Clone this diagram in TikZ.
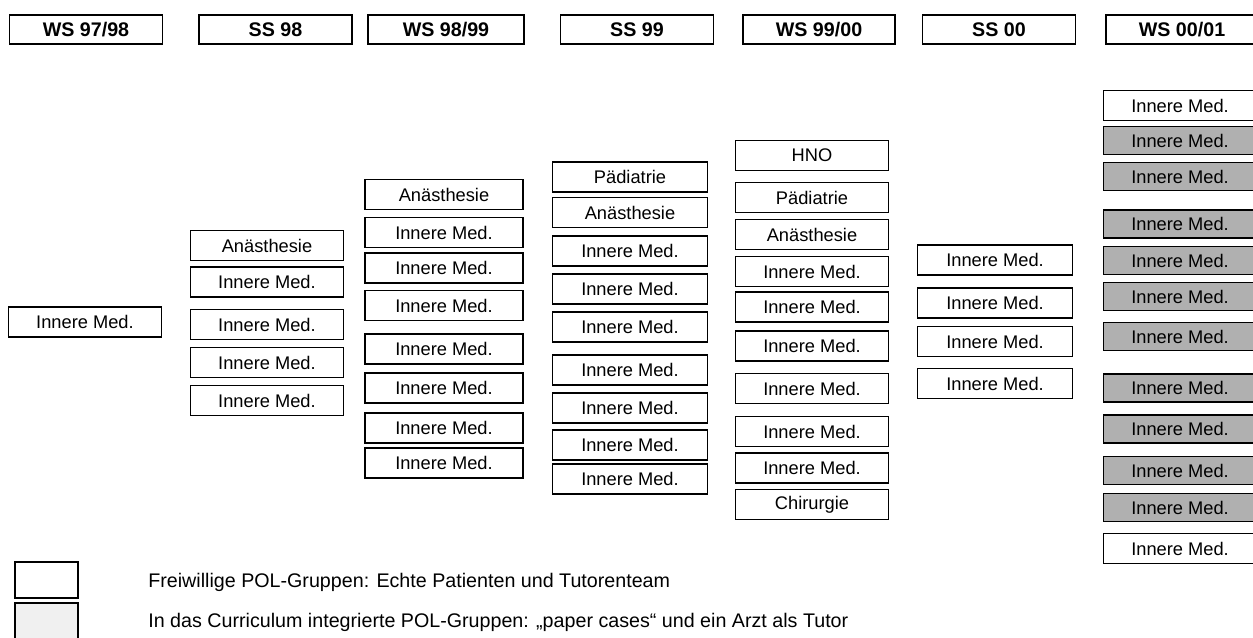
\documentclass[tikz,border=0pt]{standalone}
\usepackage{fontspec}
\setmainfont{Liberation Sans}
\usepackage{tikz}

\begin{document}
\begin{tikzpicture}[x=0.02cm,y=-0.02cm,
    sem/.style={draw,line width=0.8pt,minimum width=3.06cm,minimum height=0.58cm,
      inner sep=0pt,font=\fontsize{11.2}{12}\selectfont\bfseries},
    grp/.style={draw,line width=0.8pt,minimum width=3.06cm,minimum height=0.6cm,
      inner sep=0pt,font=\fontsize{10.4}{12}\selectfont},
    pcase/.style={grp,fill=gray!62,minimum height=0.56cm},
    key/.style={draw,line width=0.7pt,minimum width=1.26cm,inner sep=0pt}]
      \clip (0,0) rectangle (1253,637) ;
      \useasboundingbox (0,0) rectangle (1253,637) ;
      % Semester
      \node[sem] (s1) at (86,29.5) {WS 97/98} ;
      \node[sem] (s2) at (275.5,29.5) {SS 98} ;
      \node[sem,minimum width=3.12cm] (s3) at (446,29.5) {WS 98/99} ;
      \node[sem] (s4) at (637,29.5) {SS 99} ;
      \node[sem,minimum width=3.04cm] (s5) at (819,29.5) {WS 99/00} ;
      \node[sem] (s6) at (999,29.5) {SS 00} ;
      \node[sem,minimum width=3.04cm] (s7) at (1182,29.5) {WS 00/01} ;
      % WS 97/98
      \node[grp] (a1) at (85,322) {Innere Med.} ;
      % SS 98
      \node[grp] (b1) at (267,245.5) {Anästhesie} ;
      \foreach \y [count=\i from 2] in {282,324.5,362.5,400.5}
        \node[grp] (b\i) at (267,\y) {Innere Med.} ;
      % WS 98/99
      \node[grp,minimum width=3.16cm] (c1) at (444,194.5) {Anästhesie} ;
      \foreach \y [count=\i from 2] in {232.5,268,305.5,349,388,428,463}
        \node[grp,minimum width=3.16cm] (c\i) at (444,\y) {Innere Med.} ;
      % SS 99
      \node[grp,minimum width=3.1cm] (d1) at (630,177) {Pädiatrie} ;
      \node[grp,minimum width=3.1cm] (d2) at (630,212.5) {Anästhesie} ;
      \foreach \y [count=\i from 3] in {251,289,327,370,408,445,479}
        \node[grp,minimum width=3.1cm] (d\i) at (630,\y) {Innere Med.} ;
      % WS 99/00
      \node[grp] (e1) at (812,155.5) {HNO} ;
      \node[grp] (e2) at (812,197.5) {Pädiatrie} ;
      \node[grp] (e3) at (812,234.5) {Anästhesie} ;
      \foreach \y [count=\i from 4] in {271.5,307,346,388.5,431.5,468}
        \node[grp] (e\i) at (812,\y) {Innere Med.} ;
      \node[grp] (e10) at (812,504.5) {Chirurgie} ;
      % SS 00
      \foreach \y [count=\i] in {260,303,341.5,383.5}
        \node[grp,minimum width=3.1cm] (f\i) at (995,\y) {Innere Med.} ;
      % WS 00/01
      \node[grp] (g1) at (1180,105.5) {Innere Med.} ;
      \foreach \y [count=\i from 2] in {140.5,176.5,224,260.5,296.5,336.5,388,429,470.5,507.5}
        \node[pcase] (g\i) at (1180,\y) {Innere Med.} ;
      \node[grp] (g12) at (1180,548.5) {Innere Med.} ;
      % Legende
      \node[key,minimum height=0.72cm] (k1) at (46.5,580) {} ;
      \node[key,minimum height=0.76cm,fill=gray!12] (k2) at (46.5,622) {} ;
      \node[anchor=west,inner sep=0pt,font=\fontsize{11.2}{13}\selectfont] (t1) at (148,582) %
        {Freiwillige POL-Gruppen: Echte Patienten und Tutorenteam} ;
      \node[anchor=west,inner sep=0pt,font=\fontsize{11.2}{13}\selectfont] (t2) at (148,622) %
        {In das Curriculum integrierte POL-Gruppen: „paper cases“ und ein Arzt als Tutor} ;
    \end{tikzpicture}
\end{document}
